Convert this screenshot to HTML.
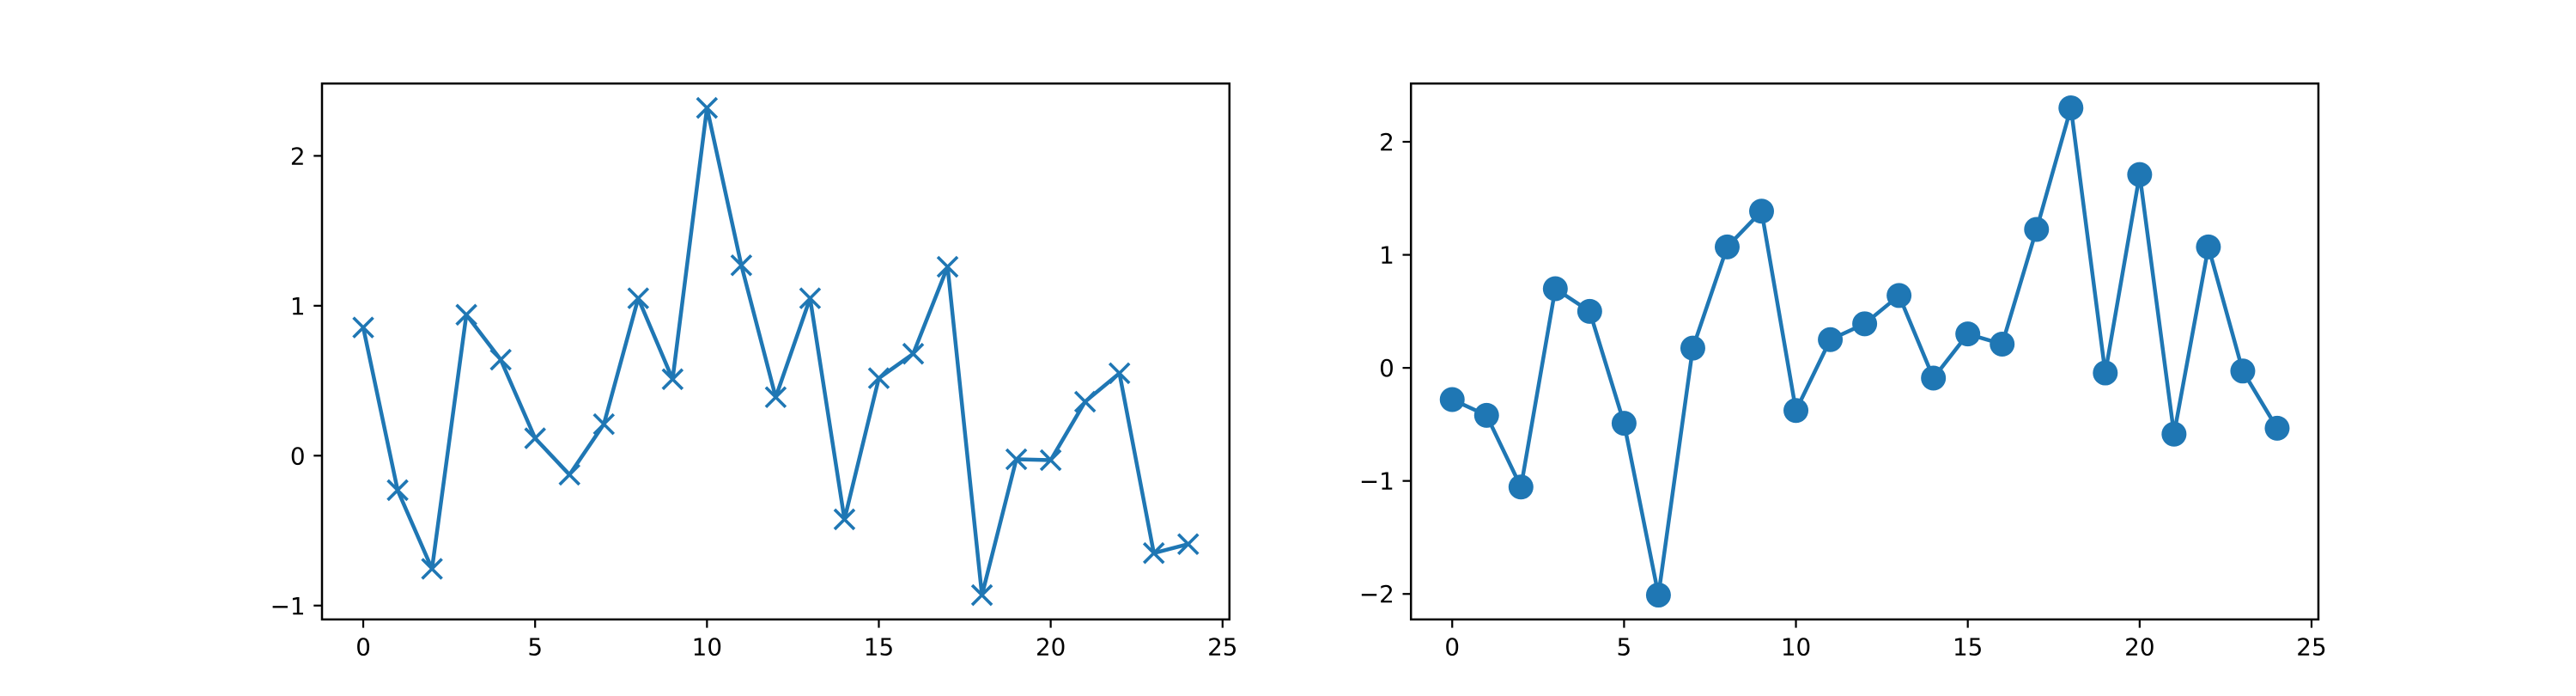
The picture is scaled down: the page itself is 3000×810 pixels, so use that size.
<!DOCTYPE html>
<html><head><meta charset="utf-8"><style>html,body{margin:0;padding:0;background:#fff}svg{display:block}</style></head>
<body>
<svg id="fig" xmlns="http://www.w3.org/2000/svg" width="3000" height="810" viewBox="0 0 3000 810"></svg>
<script>
const xValues = [0,1,2,3,4,5,6,7,8,9,10,11,12,13,14,15,16,17,18,19,20,21,22,23,24];
const leftSeries = [0.855,-0.23,-0.755,0.94,0.64,0.116,-0.127,0.21,1.05,0.51,2.32,1.27,0.39,1.05,-0.425,0.517,0.68,1.26,-0.93,-0.024,-0.03,0.36,0.55,-0.65,-0.59];
const rightSeries = [-0.28,-0.42,-1.054,0.70,0.50,-0.49,-2.01,0.175,1.07,1.386,-0.377,0.25,0.39,0.64,-0.09,0.30,0.21,1.225,2.30,-0.045,1.71,-0.586,1.07,-0.028,-0.534];
const xTicks = [0,5,10,15,20,25];
const leftYTicks = [-1,0,1,2];
const rightYTicks = [-2,-1,0,1,2];

const NS = "http://www.w3.org/2000/svg";
const svg = document.getElementById('fig');
function mk(tag, attrs, parent){const e=document.createElementNS(NS,tag);for(const k in attrs)e.setAttribute(k,attrs[k]);(parent||svg).appendChild(e);return e;}
const C = '#1f77b4';
function fmt(v){return v<0?'\u2212'+Math.abs(v):String(v);}

function drawAxes(x0,x1,ys,yTicks,marker,name){
  const top=97.2,bot=720.9;
  const g=mk('g',{});
  
  
  const xmin=-1.2,xmax=25.2;
  let ymin=Math.min(...ys),ymax=Math.max(...ys);const m=(ymax-ymin)*0.05;ymin-=m;ymax+=m;
  const sx=v=>x0+(v-xmin)/(xmax-xmin)*(x1-x0);
  const sy=v=>bot-(v-ymin)/(ymax-ymin)*(bot-top);
  const line=mk('polyline',{points:xValues.map((x,i)=>sx(x)+','+sy(ys[i])).join(' '),fill:'none',stroke:C,'stroke-width':4.5,'stroke-linejoin':'round','stroke-linecap':'square'},g);
  
  
  xValues.forEach((x,i)=>{
    const cx=sx(x),cy=sy(ys[i]);
    let p;
    if(marker==='x'){
      const r=11.5;
      p=mk('path',{d:`M${cx-r},${cy-r}L${cx+r},${cy+r}M${cx-r},${cy+r}L${cx+r},${cy-r}`,stroke:C,'stroke-width':3.6,fill:'none'},g);
    }else{
      p=mk('circle',{cx:cx,cy:cy,r:14.5,fill:C},g);
    }
    
    
  });
  const fr=mk('rect',{x:x0,y:top,width:x1-x0,height:bot-top,fill:'none',stroke:'#000','stroke-width':2.5},g);
  
  
  xTicks.forEach(t=>{
    const x=sx(t);
    const tk=mk('line',{x1:x,x2:x,y1:bot,y2:bot+9.7,stroke:'#000','stroke-width':2.22},g);
    
    
    const tx=mk('text',{x:x,y:bot+9.7+9.7+22,'text-anchor':'middle','font-family':'DejaVu Sans, sans-serif','font-size':27.8,fill:'#000'},g);
    tx.textContent=fmt(t);
    
    
  });
  yTicks.forEach(t=>{
    const y=sy(t);
    const tk=mk('line',{x1:x0-9.7,x2:x0,y1:y,y2:y,stroke:'#000','stroke-width':2.22},g);
    
    
    const tx=mk('text',{x:x0-9.7-9.7,y:y+10,'text-anchor':'end','font-family':'DejaVu Sans, sans-serif','font-size':27.8,fill:'#000'},g);
    tx.textContent=fmt(t);
    
    
  });
}
drawAxes(375,1431.8,leftSeries,leftYTicks,'x','left-subplot');
drawAxes(1643.2,2700,rightSeries,rightYTicks,'o','right-subplot');
</script>
</body></html>
